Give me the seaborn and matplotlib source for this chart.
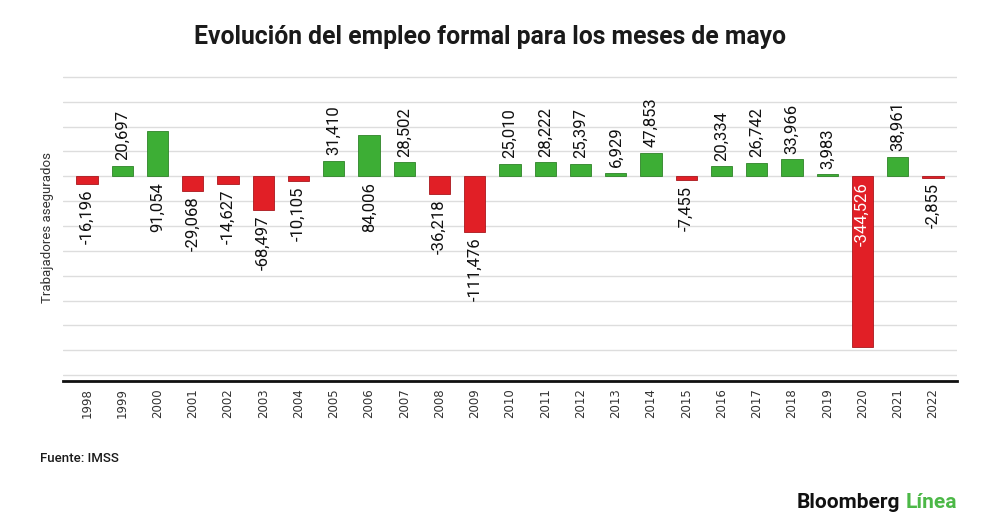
import numpy as np
import matplotlib
matplotlib.use('Agg')
import matplotlib.pyplot as plt
import seaborn as sns
import pandas as pd

# Data
years = ['1998', '1999', '2000', '2001', '2002', '2003', '2004', '2005', '2006', '2007',
         '2008', '2009', '2010', '2011', '2012', '2013', '2014', '2015', '2016', '2017',
         '2018', '2019', '2020', '2021', '2022']
values = [-16196, 20697, 91054, -29068, -14627, -68497, -10105, 31410, 84006, 28502,
          -36218, -111476, 25010, 28222, 25397, 6929, 47853, -7455, 20334, 26742,
          33966, 3983, -344526, 38961, -2855]
# years whose label sits just under the zero line instead of at the bar end
labels_below_zero = ['2000', '2006', '2020']

green = '#3dae35'
red = '#e11f26'

df = pd.DataFrame({'year': years, 'value': values})
df['sign'] = np.where(df['value'] >= 0, 'pos', 'neg')

sns.set_theme(style='white')
plt.rcParams['font.family'] = ['Roboto', 'DejaVu Sans']

fig = plt.figure(figsize=(10, 5.32), dpi=100)
ax = fig.add_axes([0.063, 0.2838, 0.894, 0.6034])

sns.barplot(data=df, x='year', y='value', hue='sign',
            palette={'pos': green, 'neg': red}, dodge=False, legend=False,
            width=0.6, saturation=1, ax=ax, zorder=3)
# thin darker outline like the original
for p in ax.patches:
    fc = np.array(p.get_facecolor()[:3])
    p.set_edgecolor(tuple(fc * 0.75))
    p.set_linewidth(0.6)

ax.set_ylim(-412000, 234000)
ax.set_xlim(-0.68, len(years) - 1 + 0.68)
ax.set_yticks(np.arange(-400000, 200001, 50000))
ax.set_yticklabels([])
ax.tick_params(axis='y', length=0)
ax.grid(axis='y', color='#dddddd', linewidth=1, zorder=0)
ax.grid(axis='x', visible=False)
for s in ['top', 'right', 'left']:
    ax.spines[s].set_visible(False)
ax.spines['bottom'].set_color('#111111')
ax.spines['bottom'].set_linewidth(2)
ax.set_xlabel('')
ax.set_ylabel('')
ax.tick_params(axis='x', length=0, pad=5)
for lab in ax.get_xticklabels():
    lab.set_rotation(90)
    lab.set_fontsize(8.5)
    lab.set_family('DejaVu Sans')
    lab.set_color('#333333')
    lab.set_va('top')

# Value labels
for i, (yr, v) in enumerate(zip(years, values)):
    txt = f'{v:,}'
    if yr in labels_below_zero:
        col = 'white' if v < -200000 else '#111111'
        ax.annotate(txt, xy=(i, 0), xytext=(0, -4), textcoords='offset points',
                    rotation=90, ha='center', va='top', fontsize=12, color=col, zorder=5)
    elif v >= 0:
        ax.annotate(txt, xy=(i, v), xytext=(0, 4), textcoords='offset points',
                    rotation=90, ha='center', va='bottom', fontsize=12, color='#111111', zorder=5)
    else:
        ax.annotate(txt, xy=(i, v), xytext=(0, -4), textcoords='offset points',
                    rotation=90, ha='center', va='top', fontsize=12, color='#111111', zorder=5)

# Titles and notes
fig.text(0.49, 1 - 37 / 532, 'Evolución del empleo formal para los meses de mayo',
         ha='center', va='center', fontsize=17.8, fontweight='bold', color='#1a1a1a')
fig.text(0.048, 0.573, 'Trabajadores asegurados', rotation=90, ha='center', va='center',
         fontsize=9.5, color='#333333')
fig.text(0.04, 1 - 458 / 532, 'Fuente: IMSS', ha='left', va='center',
         fontsize=9.5, fontweight='medium', color='#1a1a1a')

fig.canvas.draw()
r = fig.canvas.get_renderer()
t1 = fig.text(0.797, 1 - 503 / 532, 'Bloomberg', ha='left', va='center',
              fontsize=15, fontweight='bold', color='#111111')
bb = t1.get_window_extent(renderer=r)
x2 = (bb.x1 + 5) / fig.bbox.width
fig.text(x2, 1 - 503 / 532, 'Línea', ha='left', va='center',
         fontsize=15, fontweight='bold', color='#4cb847')

fig.savefig('out.png', dpi=100, facecolor='white')
